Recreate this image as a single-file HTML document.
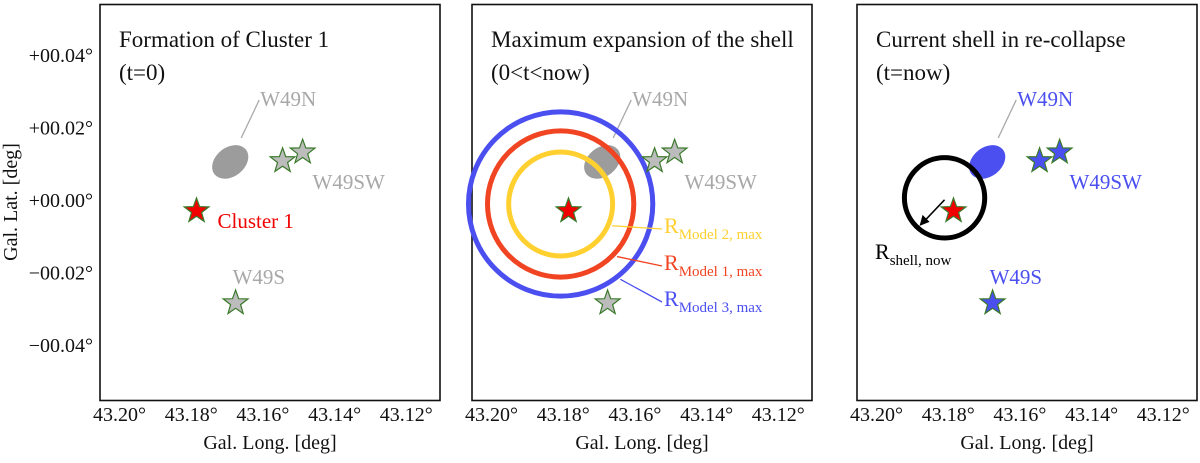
<!DOCTYPE html>
<html><head><meta charset="utf-8"><style>
html,body{margin:0;padding:0;background:#fff;}
svg, svg text{font-family:"Liberation Serif","DejaVu Serif",serif;}
</style></head><body>
<svg id="chart" width="1200" height="458" viewBox="0 0 1200 458" font-family="Liberation Serif, serif"></svg>
<script>
const xTicks=[43.20,43.18,43.16,43.14,43.12];
const xTickLabels=["43.20°","43.18°","43.16°","43.14°","43.12°"];
const yTicks=[0.04,0.02,0.00,-0.02,-0.04];
const yTickLabels=["+00.04°","+00.02°","+00.00°","−00.02°","−00.04°"];
const cluster1=[43.1774,-0.0030];
const w49nEllipse=[43.1680,0.0105];
const w49swStars=[[43.1534,0.0108],[43.1478,0.0132]];
const w49sStar=[43.1665,-0.0284];
const shellCenter=[43.1796,-0.0011];
const shellRadii=[0.0145,0.0204,0.0257];
const shellColors=["#ffd030","#f04422","#4b4ff0"];
const shellNames=["model-2","model-1","model-3"];
const nowCenter=[43.1799,0.0006];
const nowRadius=0.0112;
const panelTitles=[["Formation of Cluster 1","(t=0)"],["Maximum expansion of the shell","(0<t<now)"],["Current shell in re-collapse","(t=now)"]];
const panelLeft=[100,472,857];
const NS="http://www.w3.org/2000/svg";
const svg=document.getElementById('chart');
const PX=3585,PY=3625;
function mk(tag,attrs,parent){const e=document.createElementNS(NS,tag);for(const k in attrs)e.setAttribute(k,attrs[k]);if(tag==='text')e.setAttribute('font-family','Liberation Serif, serif');(parent||svg).appendChild(e);return e;}
function starPts(cx,cy,R,r){let p=[];for(let i=0;i<10;i++){const a=-Math.PI/2+i*Math.PI/5;const rr=i%2?r:R;p.push((cx+rr*Math.cos(a)).toFixed(1)+","+(cy+rr*Math.sin(a)).toFixed(1));}return p.join(" ");}
const gray="#a8a8a8",blue="#4b4ff0";
panelLeft.forEach((L,pi)=>{
  const x0=L+15.5;
  const xs=v=>x0+(43.20-v)*PX;
  const ys=v=>200-v*PY;
  const g=mk('g',{});
  
  
  const fr=mk('rect',{x:L,y:4.5,width:340,height:396,fill:'none',stroke:'#111','stroke-width':1.6},g);
  
  
  xTicks.forEach((t,i)=>{const e=mk('text',{x:xs(t)+4,y:421,'text-anchor':'middle','font-size':20,fill:'#111'},g);e.textContent=xTickLabels[i];
    
    });
  const xt=mk('text',{x:L+170,y:449,'text-anchor':'middle','font-size':20,fill:'#111'},g);xt.textContent="Gal. Long. [deg]";
  
  
  if(pi===0){
    yTicks.forEach((t,i)=>{const e=mk('text',{x:93,y:ys(t)+7,'text-anchor':'end','font-size':20,fill:'#111'},g);e.textContent=yTickLabels[i];
      
      });
    const yt=mk('text',{x:0,y:0,'text-anchor':'middle','font-size':20,fill:'#111',transform:'translate(17,202) rotate(-90)'},g);yt.textContent="Gal. Lat. [deg]";
    
    
  }
  panelTitles[pi].forEach((s,i)=>{const e=mk('text',{x:L+19,y:47+i*33,'font-size':23,fill:'#111'},g);e.textContent=s;
    
    });
  const srcCol=pi===2?blue:gray;
  const ex=xs(w49nEllipse[0]),ey=ys(w49nEllipse[1]);
  const el=mk('ellipse',{cx:ex,cy:ey,rx:20,ry:14.5,fill:pi===2?blue:'#9c9c9c',transform:`rotate(-38 ${ex} ${ey})`},g);
  
  
  mk('line',{x1:ex+11,y1:ey-24,x2:ex+29,y2:ey-62,stroke:'#aaa','stroke-width':1.3},g);
  const nl=mk('text',{x:ex+30,y:ey-56,'font-size':21,fill:srcCol},g);nl.textContent="W49N";
  
  
  if(pi===1){
    shellRadii.forEach((r,i)=>{const c=mk('circle',{cx:xs(shellCenter[0]),cy:ys(shellCenter[1]),r:r*PX,fill:'none',stroke:shellColors[i],'stroke-width':5},g);
      
      });
    const cx=xs(shellCenter[0]),cy=ys(shellCenter[1]);
    const labs=[["Model 2, max",233],["Model 1, max",270],["Model 3, max",306]];
    shellRadii.forEach((r,i)=>{
      const ang=[0.4,0.75,0.9][i];
      const px=cx+(r*PX+4)*Math.cos(ang),py=cy+(r*PX+4)*Math.sin(ang);
      mk('line',{x1:px,y1:py,x2:L+190,y2:labs[i][1]-4,stroke:shellColors[i],'stroke-width':1.3},g);
      const t=mk('text',{x:L+192,y:labs[i][1],'font-size':22,fill:shellColors[i]},g);
      
      
      t.textContent="R";
      const sub=mk('tspan',{'font-size':15,dy:6},t);sub.textContent=labs[i][0];
    });
  }
  if(pi===2){
    const cx=xs(nowCenter[0]),cy=ys(nowCenter[1]);
    const c=mk('circle',{cx:cx,cy:cy,r:nowRadius*PX,fill:'none',stroke:'#000','stroke-width':5},g);
    
    
    mk('line',{x1:cx,y1:cy+2,x2:cx-19,y2:cy+22,stroke:'#000','stroke-width':1.5},g);
    mk('polygon',{points:`${cx-25},${cy+28} ${cx-22},${cy+17} ${cx-15},${cy+24}`,fill:'#000'},g);
    const t=mk('text',{x:L+18,y:259,'font-size':22,fill:'#000'},g);t.textContent="R";
    
    
    const sub=mk('tspan',{'font-size':15,dy:6},t);sub.textContent="shell, now";
  }
  const starFill=pi===2?blue:'#bcbcbc';
  w49swStars.forEach(s=>{const p=mk('polygon',{points:starPts(xs(s[0]),ys(s[1]),13,5.3),fill:starFill,stroke:'#3a7a2a','stroke-width':1.2},g);
    
    });
  const sw=mk('text',{x:xs(w49swStars[0][0])+30,y:ys(w49swStars[0][1])+28,'font-size':21,fill:srcCol},g);sw.textContent="W49SW";
  
  
  const sp=mk('polygon',{points:starPts(xs(w49sStar[0]),ys(w49sStar[1]),13,5.3),fill:starFill,stroke:'#3a7a2a','stroke-width':1.2},g);
  
  
  if(pi!==1){
    const sl=mk('text',{x:xs(w49sStar[0])-3,y:ys(w49sStar[1])-19,'font-size':21,fill:srcCol},g);sl.textContent="W49S";
    
    
  }
  const cs=mk('polygon',{points:starPts(xs(cluster1[0]),ys(cluster1[1]),13,5.3),fill:'#f00000',stroke:'#3a7a2a','stroke-width':1.2},g);
  
  
  if(pi===0){const t=mk('text',{x:xs(cluster1[0])+21,y:ys(cluster1[1])+17,'font-size':21,fill:'#f00000'},g);t.textContent="Cluster 1";
    
    }
});
</script>
</body></html>
